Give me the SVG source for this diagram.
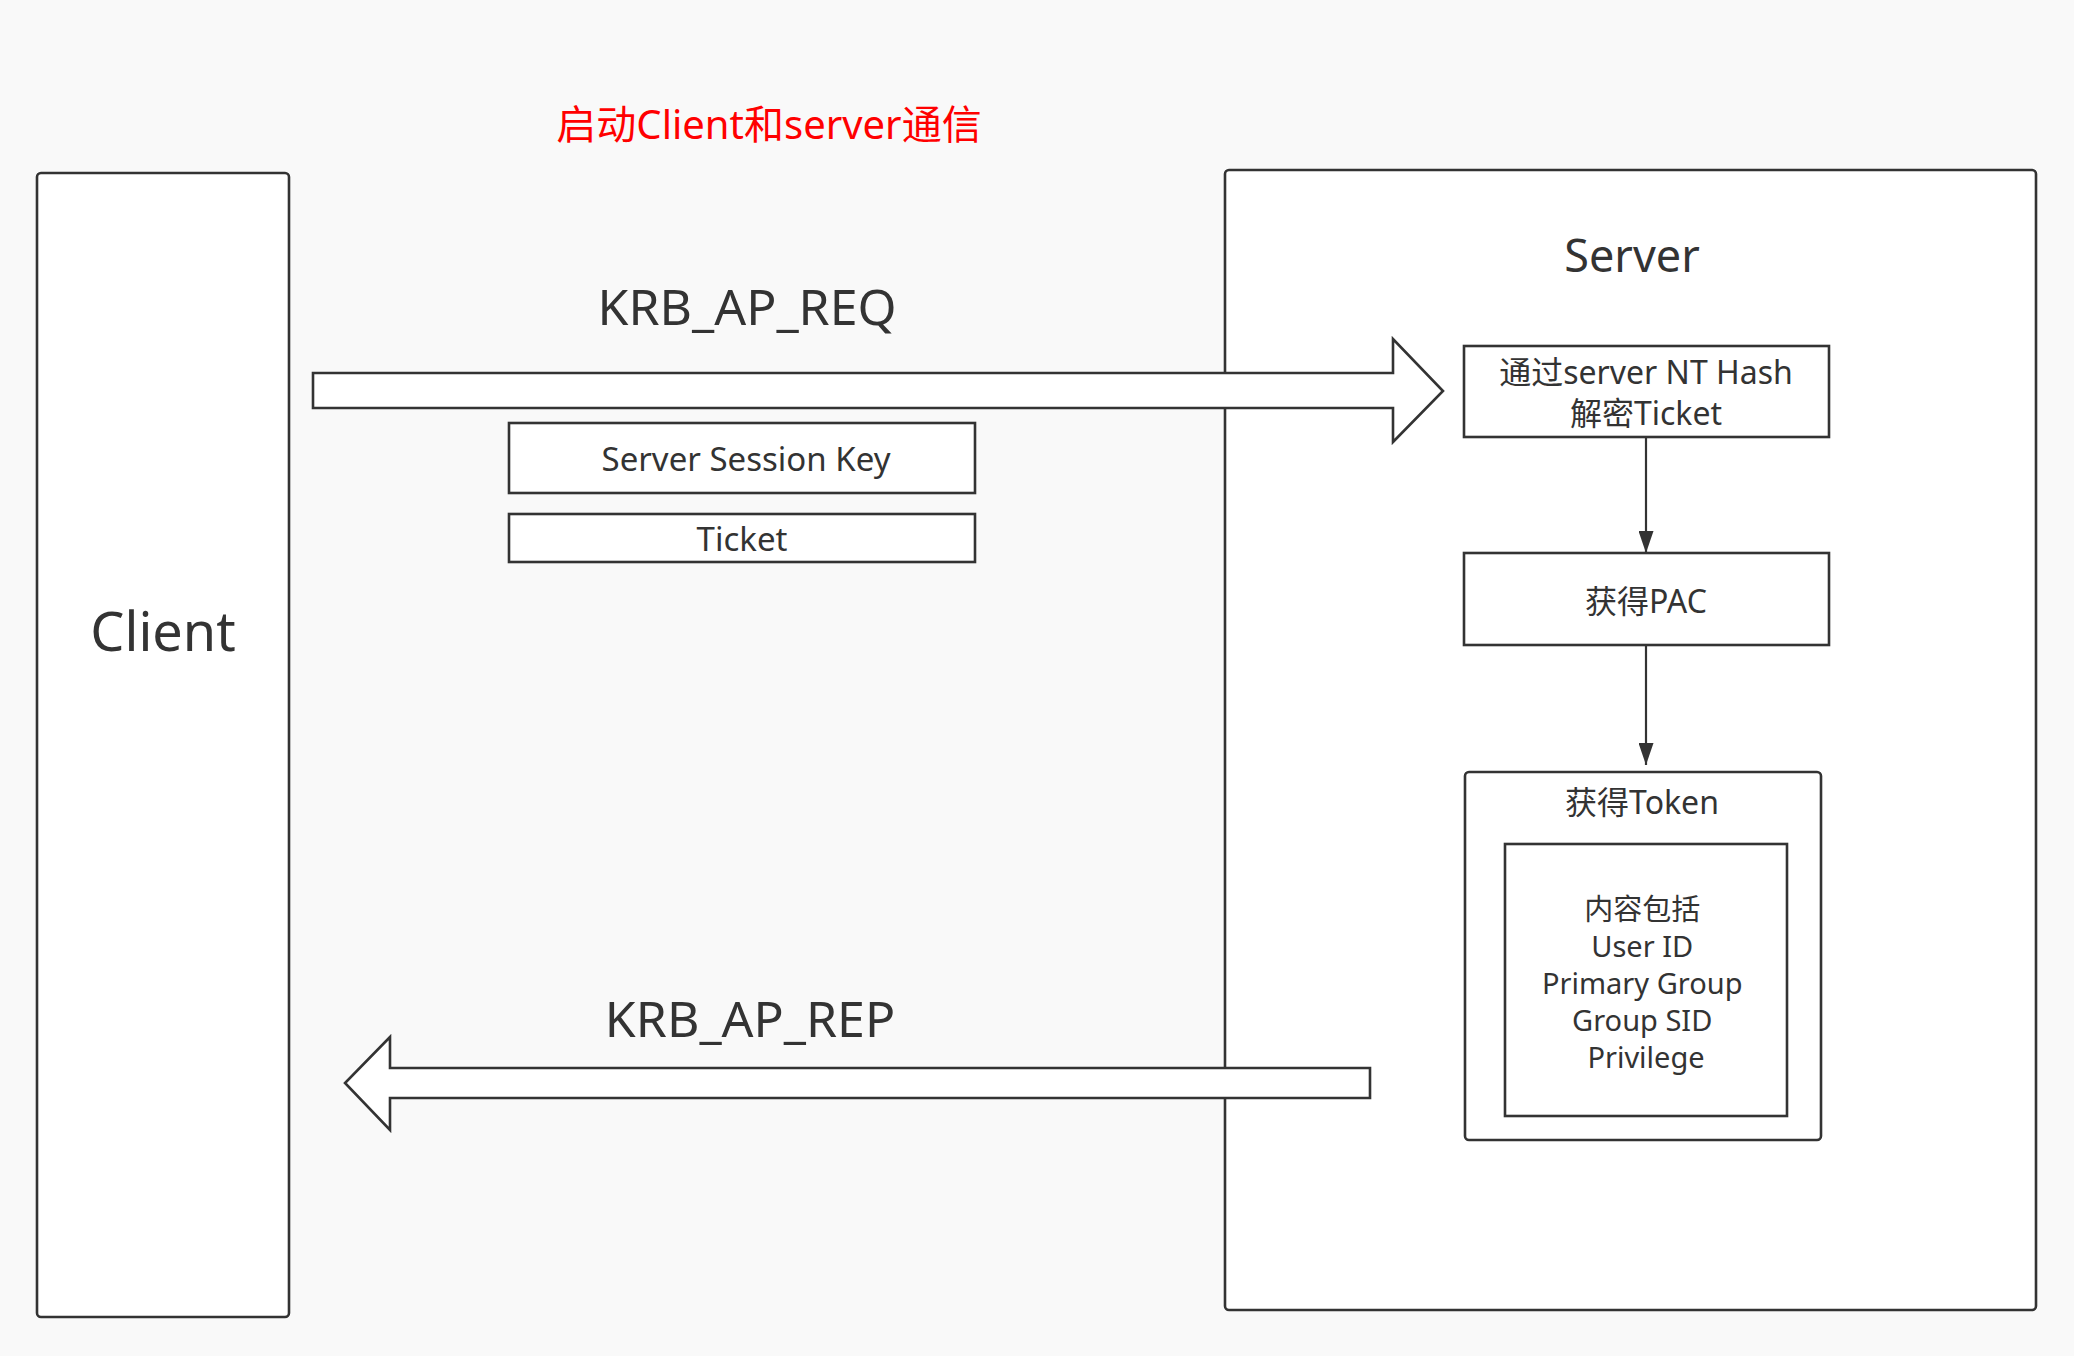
<svg xmlns="http://www.w3.org/2000/svg" width="2074" height="1356" viewBox="0 0 2074 1356">
<defs>
<style>
.box{fill:#ffffff;stroke:#333333;stroke-width:2.6}
.t{font-family:"Noto Sans","Noto Sans CJK SC","Open Sans",sans-serif;fill:#333333;text-anchor:middle}
.line{stroke:#333333;stroke-width:2.2;fill:none}
.big{fill:#ffffff;stroke:#333333;stroke-width:2.6;stroke-linejoin:miter}
</style>
<marker id="ah" viewBox="0 0 10 10" refX="10" refY="5" markerWidth="22" markerHeight="15" markerUnits="userSpaceOnUse" orient="auto" preserveAspectRatio="none">
<path d="M0,0 L10,5 L0,10 z" fill="#333333"/>
</marker>
</defs>
<rect width="2074" height="1356" fill="#f9f9f9"/>
<g id="title">
<text class="t" x="769" y="139" font-size="40" style="fill:#ff0000">启动Client和server通信</text>
</g>
<g id="client">
<rect class="box" x="37" y="173" width="252" height="1144" rx="4"/>
<text class="t" x="163" y="651" font-size="54">Client</text>
</g>
<g id="server">
<rect class="box" x="1225" y="170" width="811" height="1140" rx="4"/>
<text class="t" x="1632" y="272" font-size="45">Server</text>
</g>
<g id="decrypt">
<rect class="box" x="1464" y="346" width="365" height="91"/>
<text class="t" x="1646" y="384" font-size="32">通过server NT Hash</text>
<text class="t" x="1646" y="425" font-size="32">解密Ticket</text>
</g>
<g id="pac">
<rect class="box" x="1464" y="553" width="365" height="92"/>
<text class="t" x="1646" y="613" font-size="32">获得PAC</text>
</g>
<g id="token">
<rect class="box" x="1465" y="772" width="356" height="368" rx="4"/>
<text class="t" x="1642" y="814" font-size="32">获得Token</text>
</g>
<g id="token-content">
<rect class="box" x="1505" y="844" width="282" height="272"/>
<text class="t" font-size="29">
<tspan x="1646" y="920">内容包括</tspan>
<tspan x="1646" y="957">User ID</tspan>
<tspan x="1646" y="994">Primary Group</tspan>
<tspan x="1646" y="1031">Group SID</tspan>
<tspan x="1646" y="1068">Privilege</tspan>
</text>
</g>
<g id="session-key">
<rect class="box" x="509" y="423" width="466" height="70"/>
<text class="t" x="746" y="471" font-size="33">Server Session Key</text>
</g>
<g id="ticket">
<rect class="box" x="509" y="514" width="466" height="48"/>
<text class="t" x="742" y="551" font-size="33">Ticket</text>
</g>
<g id="connectors">
<path class="big" d="M313,373 L1393,373 L1393,339 L1443,391 L1393,442 L1393,408 L313,408 Z"/>
<path class="big" d="M1370,1068 L390,1068 L390,1037 L345,1083 L390,1130 L390,1098 L1370,1098 Z"/>
<line class="line" x1="1646" y1="437" x2="1646" y2="553" marker-end="url(#ah)"/>
<line class="line" x1="1646" y1="645" x2="1646" y2="765" marker-end="url(#ah)"/>
<text class="t" x="747" y="325" font-size="50">KRB_AP_REQ</text>
<text class="t" x="750" y="1037" font-size="50">KRB_AP_REP</text>
</g>
</svg>
